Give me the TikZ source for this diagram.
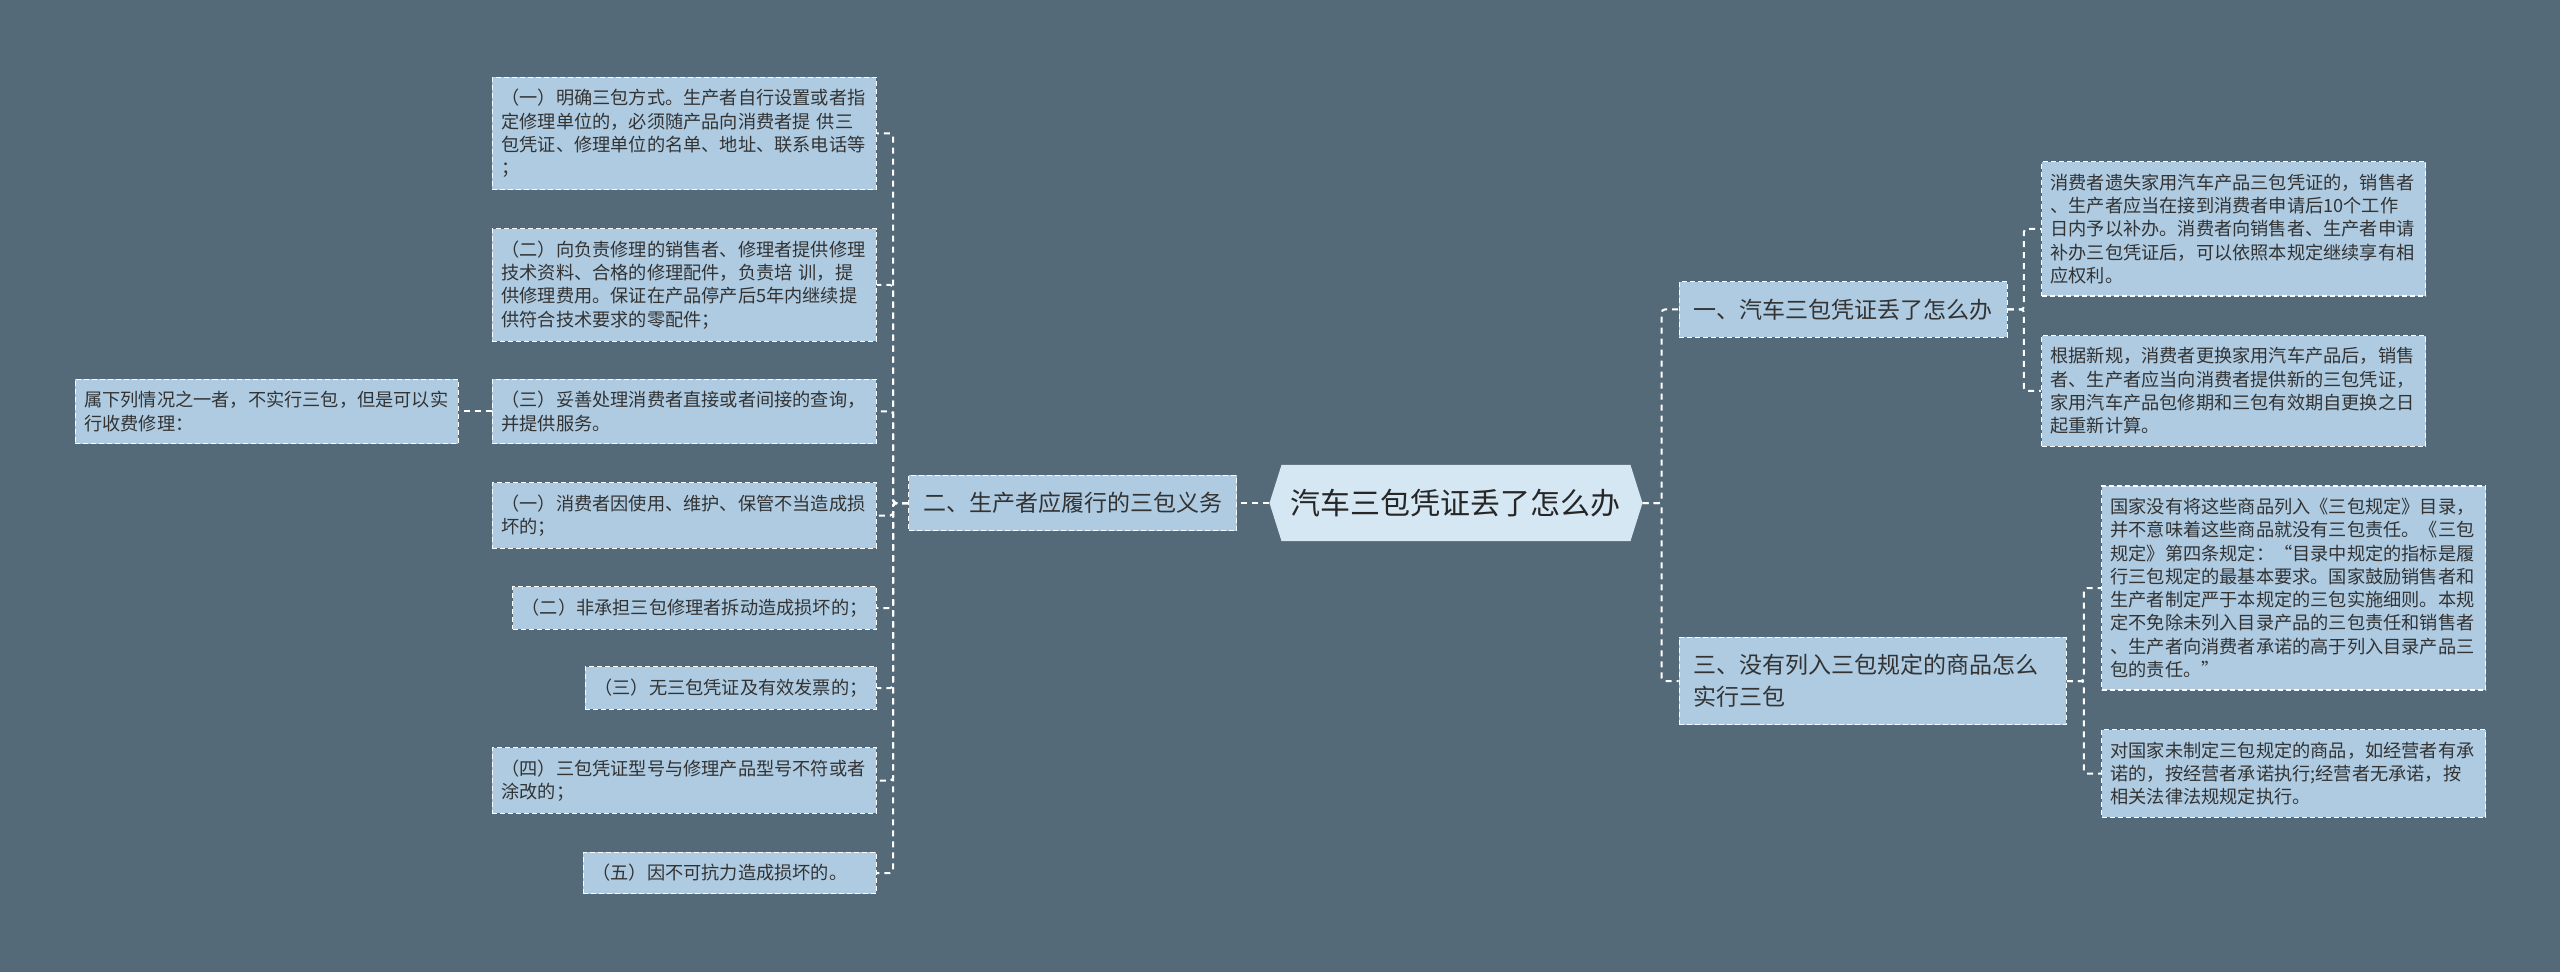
\documentclass[tikz,border=0pt]{standalone}
\usepackage{fontspec}
\setmainfont{Noto Sans CJK SC}
\usetikzlibrary{positioning}
\usetikzlibrary{shapes.symbols}

\definecolor{slatebg}{HTML}{546A79}
\definecolor{paleblue}{HTML}{AECBE1}
\definecolor{rootblue}{HTML}{D4E7F3}
\definecolor{inkgray}{HTML}{333333}

\tikzset{
    leaf/.style={
        rectangle,
        draw=white,
        dash pattern=on 5pt off 3pt,
        line width=1.2pt,
        fill=paleblue,
        text=inkgray,
        align=left,
        inner xsep=9pt,
        inner ysep=12pt,
        font=\fontsize{18.2}{23.3}\selectfont
    },
    wide/.style={text width=366pt},
    branch/.style={
        leaf,
        inner xsep=14.5pt,
        inner ysep=17pt,
        font=\fontsize{23}{31.7}\selectfont
    },
    rootbox/.style={
        signal,
        signal to=west and east,
        signal pointer angle=145,
        fill=rootblue,
        text=black!85,
        minimum width=373pt,
        minimum height=76pt,
        font=\fontsize{30}{36}\selectfont
    },
    link/.style={
        draw=white,
        line width=2pt,
        dash pattern=on 6pt off 5pt,
        rounded corners=3pt
    }
}

\begin{document}
\begin{tikzpicture}
    % Background
    \fill[slatebg] (-1456pt,503pt) rectangle (1104pt,-469pt);

    % Root
    \node (root) [rootbox] {汽车三包凭证丢了怎么办};

    % Left branch: duties of the producer
    \node (duty) [branch, left=32pt of root] {二、生产者应履行的三包义务};
    \coordinate (dutyfork) at ([xshift=-15pt]duty.west);

    \node (duty1) [leaf, wide, left=31pt of duty, yshift=369.5pt] {（一）明确三包方式。生产者自行设置或者指\\定修理单位的，必须随产品向消费者提 供三\\包凭证、修理单位的名单、地址、联系电话等\\；};
    \node (duty2) [leaf, wide, left=31pt of duty, yshift=218pt] {（二）向负责修理的销售者、修理者提供修理\\技术资料、合格的修理配件，负责培 训，提\\供修理费用。保证在产品停产后5年内继续提\\供符合技术要求的零配件；};
    \node (duty3) [leaf, wide, left=31pt of duty, yshift=91.5pt] {（三）妥善处理消费者直接或者间接的查询，\\并提供服务。};
    \node (duty4) [leaf, wide, left=31pt of duty, yshift=-12.5pt] {（一）消费者因使用、维护、保管不当造成损\\坏的；};
    \node (duty5) [leaf, left=31pt of duty, yshift=-105pt] {（二）非承担三包修理者拆动造成损坏的；};
    \node (duty6) [leaf, left=31pt of duty, yshift=-185pt] {（三）无三包凭证及有效发票的；};
    \node (duty7) [leaf, wide, left=31pt of duty, yshift=-277.5pt] {（四）三包凭证型号与修理产品型号不符或者\\涂改的；};
    \node (duty8) [leaf, text width=275pt, left=31pt of duty, yshift=-370pt] {（五）因不可抗力造成损坏的。};

    % Exemption note
    \node (exempt) [leaf, text width=365pt, left=33pt of duty3] {属下列情况之一者，不实行三包，但是可以实\\行收费修理：};

    % Right branches
    \coordinate (rootfork) at ([xshift=19pt]root.east);
    \node (lost) [branch, right=36pt of root, yshift=193.5pt] {一、汽车三包凭证丢了怎么办};
    \node (unlisted) [branch, text width=358pt, right=36pt of root, yshift=-178pt] {三、没有列入三包规定的商品怎么\\实行三包};
    \coordinate (lostfork) at ([xshift=16pt]lost.east);
    \coordinate (unlistedfork) at ([xshift=17pt]unlisted.east);

    \node (lost1) [leaf, wide, right=33pt of lost, yshift=80.5pt] {消费者遗失家用汽车产品三包凭证的，销售者\\、生产者应当在接到消费者申请后10个工作\\日内予以补办。消费者向销售者、生产者申请\\补办三包凭证后，可以依照本规定继续享有相\\应权利。};
    \node (lost2) [leaf, wide, right=33pt of lost, yshift=-81.5pt] {根据新规，消费者更换家用汽车产品后，销售\\者、生产者应当向消费者提供新的三包凭证，\\家用汽车产品包修期和三包有效期自更换之日\\起重新计算。};

    \node (unlisted1) [leaf, wide, right=34pt of unlisted, yshift=93pt] {国家没有将这些商品列入《三包规定》目录，\\并不意味着这些商品就没有三包责任。《三包\\规定》第四条规定：“目录中规定的指标是履\\行三包规定的最基本要求。国家鼓励销售者和\\生产者制定严于本规定的三包实施细则。本规\\定不免除未列入目录产品的三包责任和销售者\\、生产者向消费者承诺的高于列入目录产品三\\包的责任。”};
    \node (unlisted2) [leaf, wide, right=34pt of unlisted, yshift=-92.5pt] {对国家未制定三包规定的商品，如经营者有承\\诺的，按经营者承诺执行;经营者无承诺，按\\相关法律法规规定执行。};

    % Connectors
    \draw[link] (root.west) -- (duty.east);
    \foreach \n in {duty1,duty2,duty3,duty4,duty5,duty6,duty7,duty8}
        \draw[link] (duty.west) -- (dutyfork) |- (\n.east);
    \draw[link] (duty3.west) -- (exempt.east);

    \foreach \n in {lost,unlisted}
        \draw[link] (root.east) -- (rootfork) |- (\n.west);
    \foreach \n in {lost1,lost2}
        \draw[link] (lost.east) -- (lostfork) |- (\n.west);
    \foreach \n in {unlisted1,unlisted2}
        \draw[link] (unlisted.east) -- (unlistedfork) |- (\n.west);
\end{tikzpicture}
\end{document}
